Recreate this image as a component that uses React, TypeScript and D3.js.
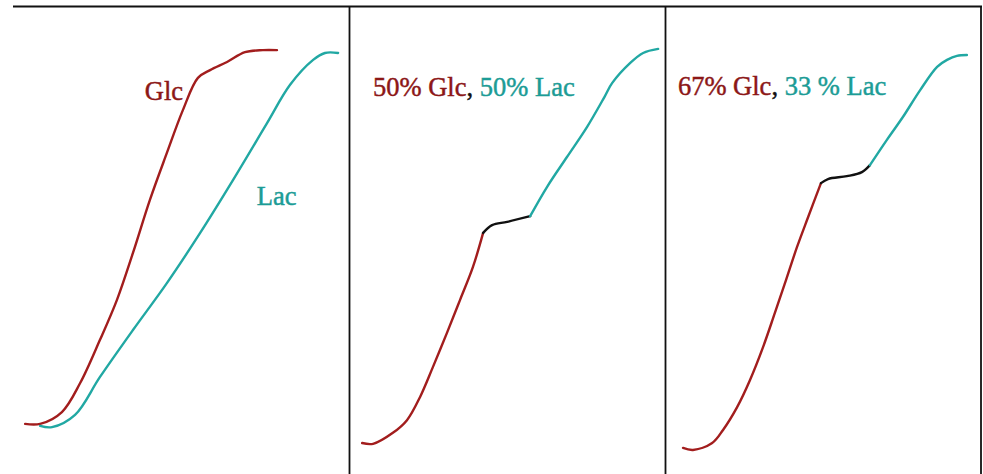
import React, { useEffect, useRef } from 'react';
import * as d3 from 'd3';

// time (0-100, arbitrary) vs. fraction of max (%)
const glcOnlyT = [1.6, 6.3, 13.1, 18.8, 25, 30.3, 35.3, 40.6, 45.9, 50.9, 55.6, 59.4, 64.7, 70.3, 75.9, 80.3];
const glcOnlyV = [6.9, 6.9, 9.8, 16.9, 27.5, 37.3, 48.8, 61.8, 73.3, 83.8, 91.7, 93.6, 95.6, 98.0, 98.5, 98.5];
const lacOnlyT = [6.3, 10, 17.2, 25, 35.3, 45.9, 56.3, 66.6, 77.2, 84.4, 91.6, 95.3, 99.4];
const lacOnlyV = [6.4, 6.1, 9.1, 18.4, 29.9, 41.4, 53.7, 66.7, 80.6, 90.0, 96.1, 97.8, 97.8];

const mix50GlcT = [1.3, 4.7, 10.9, 15.3, 19.4, 23.4, 27.8, 31.9, 35.9, 39.1];
const mix50GlcV = [2.2, 2.0, 4.7, 7.8, 13.5, 20.8, 29.2, 37.3, 45.3, 53.7];
const mix50LagT = [39.1, 41.9, 46.6, 53.8];
const mix50LagV = [53.7, 55.6, 56.4, 57.8];
const mix50LacT = [53.8, 59.1, 65.3, 71.6, 77.0, 79.4, 85, 89.1, 93.8];
const mix50LacV = [57.8, 65.0, 72.3, 79.7, 87.0, 90.4, 95.3, 97.8, 98.8];

const mix67GlcT = [2.2, 5.3, 11.3, 14.7, 19.1, 23.1, 27.2, 30.9, 34.4, 37.8, 41.3, 45.3];
const mix67GlcV = [1.0, 0.5, 2.2, 5.4, 11.0, 17.6, 25.7, 34.1, 42.2, 50.2, 57.6, 65.9];
const mix67LagT = [45.3, 47.5, 53.4, 58.1, 60.6];
const mix67LagV = [65.9, 66.9, 67.6, 68.6, 70.3];
const mix67LacT = [60.6, 65.9, 70.9, 76.3, 81.6, 84.7, 87.8, 90.9];
const mix67LacV = [70.3, 76.5, 82.1, 88.7, 94.4, 96.1, 97.1, 97.3];

const panelLabels = [
  [{ t: 'Glc', c: 'glc' }],
  [{ t: '50% Glc', c: 'glc' }, { t: ', ', c: 'lag' }, { t: '50% Lac', c: 'lac' }],
  [{ t: '67% Glc', c: 'glc' }, { t: ', ', c: 'lag' }, { t: '33 % Lac', c: 'lac' }],
];

const W = 983;
const H = 474;

const lineColor: Record<string, string> = { glc: '#a21d1d', lac: '#21a8a3', lag: '#111111' };
const textColor: Record<string, string> = { glc: '#8c1717', lac: '#1c9c96', lag: '#111111' };

export default function App() {
  const svgRef = useRef<SVGSVGElement>(null);

  useEffect(() => {
    if (!svgRef.current) return;
    const svg = d3.select(svgRef.current);
    svg.selectAll('*').remove();

    const y = d3.scaleLinear().domain([0, 100]).range([452, 44]);
    const panelX = [20, 358, 676].map(x0 => d3.scaleLinear().domain([0, 100]).range([x0, x0 + 320]));

    const zip = (t: number[], v: number[]) => t.map((d, i) => [d, v[i]] as [number, number]);

    const panels = [
      [
        { c: 'glc', d: zip(glcOnlyT, glcOnlyV) },
        { c: 'lac', d: zip(lacOnlyT, lacOnlyV) },
      ],
      [
        { c: 'glc', d: zip(mix50GlcT, mix50GlcV) },
        { c: 'lag', d: zip(mix50LagT, mix50LagV) },
        { c: 'lac', d: zip(mix50LacT, mix50LacV) },
      ],
      [
        { c: 'glc', d: zip(mix67GlcT, mix67GlcV) },
        { c: 'lag', d: zip(mix67LagT, mix67LagV) },
        { c: 'lac', d: zip(mix67LacT, mix67LacV) },
      ],
    ];

    svg.append('rect').attr('width', W).attr('height', H).attr('fill', '#ffffff');

    // frame: top rule, dividers, right border
    const frame = svg.append('g').attr('stroke', '#111').attr('stroke-width', 1.8);
    frame.append('line').attr('x1', 13).attr('x2', 982).attr('y1', 6.5).attr('y2', 6.5);
    [349.5, 665.5, 981].forEach(x => {
      frame.append('line').attr('x1', x).attr('x2', x).attr('y1', 6).attr('y2', H);
    });

    panels.forEach((series, p) => {
      const x = panelX[p];
      const line = d3.line<[number, number]>()
        .x(d => x(d[0]))
        .y(d => y(d[1]))
        .curve(d3.curveCatmullRom.alpha(0.5));
      series.forEach(s => {
        svg.append('path')
          .attr('d', line(s.d))
          .attr('fill', 'none')
          .attr('stroke', lineColor[s.c])
          .attr('stroke-width', 2.4)
          .attr('stroke-linejoin', 'round')
          .attr('stroke-linecap', 'round');
      });
    });

    const labelPos = [[39, 86.3], [4.7, 87.3], [0.6, 87.5]];
    panelLabels.forEach((parts, p) => {
      const text = svg.append('text')
        .attr('x', panelX[p](labelPos[p][0]))
        .attr('y', y(labelPos[p][1]))
        .attr('font-family', '"Liberation Serif", "Times New Roman", serif')
        .attr('font-size', 26.5)
        .attr('stroke-width', 0.45);
      parts.forEach(part => {
        text.append('tspan')
          .attr('fill', textColor[part.c])
          .attr('stroke', textColor[part.c])
          .text(part.t);
      });
    });

    // "Lac" label in the first panel
    svg.append('text')
      .attr('x', panelX[0](74))
      .attr('y', y(60.5))
      .attr('font-family', '"Liberation Serif", "Times New Roman", serif')
      .attr('font-size', 26.5)
      .attr('fill', textColor.lac)
      .attr('stroke', textColor.lac)
      .attr('stroke-width', 0.45)
      .text('Lac');
  }, []);

  return (
    <div style={{ position: 'absolute', left: 0, top: 0 }}>
      <svg ref={svgRef} width={W} height={H} style={{ display: 'block' }} />
    </div>
  );
}
